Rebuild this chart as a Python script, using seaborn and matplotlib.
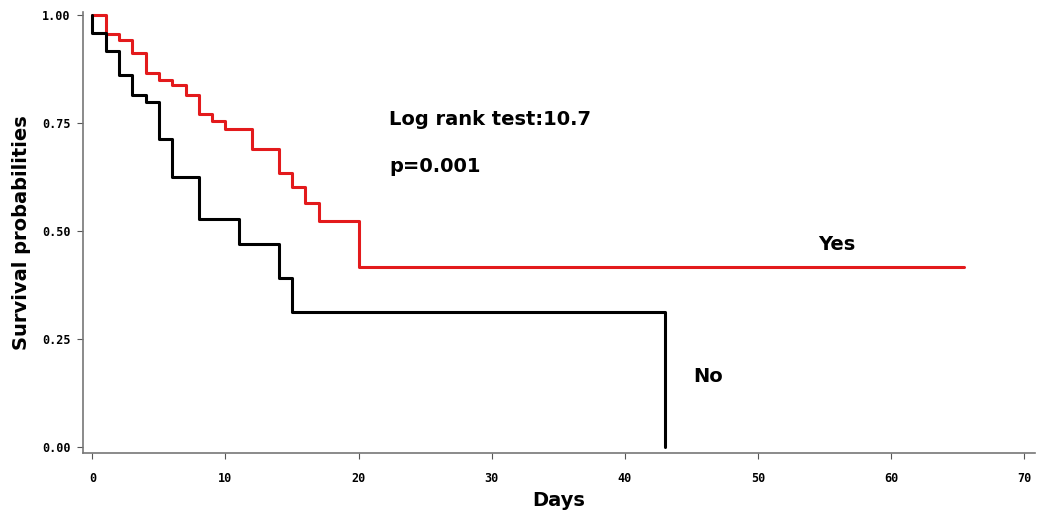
import numpy as np
import pandas as pd
import seaborn as sns
import matplotlib.pyplot as plt

sns.set_style("ticks")

# Kaplan-Meier step values
yes_days = [0, 1, 2, 3, 4, 5, 6, 7, 8, 9, 10, 12, 14, 15, 16, 17, 20, 65.5]
yes_surv = [1.0, 0.955, 0.942, 0.911, 0.866, 0.850, 0.838, 0.815, 0.771,
            0.755, 0.735, 0.689, 0.633, 0.601, 0.564, 0.522, 0.416, 0.416]

no_days = [0, 0, 1, 2, 3, 4, 5, 6, 8, 11, 14, 15, 43]
no_surv = [1.0, 0.958, 0.917, 0.860, 0.815, 0.799, 0.712, 0.626, 0.527,
           0.469, 0.390, 0.312, 0.0]

x_ticks = [0, 10, 20, 30, 40, 50, 60, 70]
y_ticks = [0.0, 0.25, 0.5, 0.75, 1.0]

df = pd.concat([
    pd.DataFrame({"Days": yes_days, "Survival": yes_surv, "group": "Yes"}),
    pd.DataFrame({"Days": no_days, "Survival": no_surv, "group": "No"}),
], ignore_index=True)

fig = plt.figure(figsize=(10.38, 5.16), dpi=100)
ax = fig.add_axes([0.080, 0.122, 0.917, 0.855])

sns.lineplot(
    data=df, x="Days", y="Survival", hue="group",
    palette={"Yes": "#e31a1c", "No": "#000000"},
    estimator=None, sort=False, drawstyle="steps-post",
    linewidth=2.2, legend=False, ax=ax,
)

ax.set_xlim(-0.7, 70.8)
ax.set_ylim(-0.014, 1.007)
ax.set_xticks(x_ticks)
ax.set_yticks(y_ticks)
ax.set_xticklabels([str(t) for t in x_ticks], family="DejaVu Sans Mono",
                   fontsize=8.5, fontweight="bold", color="black")
ax.set_yticklabels([f"{t:.2f}" for t in y_ticks], family="DejaVu Sans Mono",
                   fontsize=8.5, fontweight="bold", color="black")
ax.tick_params(axis="x", length=4, pad=10, color="#555555")
ax.tick_params(axis="y", length=4, pad=5, color="#555555")

for side in ("top", "right"):
    ax.spines[side].set_visible(False)
for side in ("left", "bottom"):
    ax.spines[side].set_color("#777777")
    ax.spines[side].set_linewidth(1.2)

ax.set_xlabel("Days", fontsize=14, fontweight="bold", labelpad=4, color="black")
ax.set_ylabel("Survival probabilities", fontsize=14, fontweight="bold",
              labelpad=8, color="black")

txt = dict(fontsize=14, fontweight="bold", va="center", ha="left", color="black")
ax.text(22.3, 0.757, "Log rank test:10.7", **txt)
ax.text(22.3, 0.648, "p=0.001", **txt)
ax.text(54.5, 0.468, "Yes", **txt)
ax.text(45.1, 0.162, "No", **txt)

fig.savefig("out.png", dpi=100)
